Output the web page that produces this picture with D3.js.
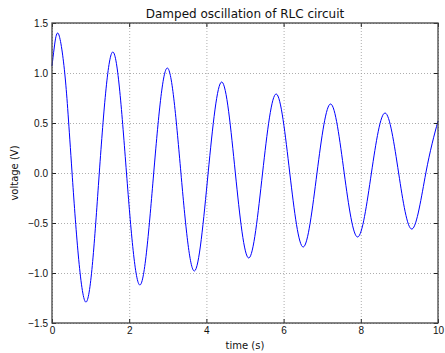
<!DOCTYPE html>
<html>
<head>
<meta charset="utf-8">
<script src="https://cdn.jsdelivr.net/npm/d3@7"></script>
<style>
  body { margin: 0; background: #fff; }
  svg { display: block; font-family: "DejaVu Sans", sans-serif; }
  .axis text { font-size: 10px; fill: #111; }
  .axis path.domain { display: none; }
  .axis line { stroke: #222; }
  .grid line { stroke: #999; stroke-width: 0.8; stroke-dasharray: 1,2; }
  .grid path.domain { display: none; }
</style>
</head>
<body>
<svg width="445" height="353"></svg>
<script>
// values: peaks, troughs and zero crossings
var timeS = [0, 0.06, 0.17, 0.34, 0.52, 0.87, 1.225, 1.58, 1.93, 2.28, 2.635, 2.99, 3.34, 3.69,
             4.045, 4.40, 4.75, 5.10, 5.455, 5.81, 6.16, 6.51, 6.865, 7.22, 7.57,
             7.92, 8.275, 8.63, 8.98, 9.33, 9.685, 10];
var voltage = [1.07, 1.26, 1.39, 0.96, 0, -1.29, 0, 1.21, 0, -1.12, 0, 1.05, 0, -0.98,
               0, 0.91, 0, -0.85, 0, 0.79, 0, -0.74, 0, 0.69, 0,
               -0.64, 0, 0.60, 0, -0.56, 0, 0.52];
var xTicks = [0, 2, 4, 6, 8, 10];
var yTicks = [-1.5, -1.0, -0.5, 0.0, 0.5, 1.0, 1.5];

var svg = d3.select("svg"),
    margin = {top: 23, right: 7, bottom: 30, left: 52},
    width = +svg.attr("width") - margin.left - margin.right,
    height = +svg.attr("height") - margin.top - margin.bottom;

var x = d3.scaleLinear().domain([0, 10]).range([0, width]),
    y = d3.scaleLinear().domain([-1.5, 1.5]).range([height, 0]);

var g = svg.append("g")
    .attr("transform", "translate(" + margin.left + "," + margin.top + ")");

var data = timeS.map(function(t, i) { return {t: t, v: voltage[i]}; });

// dotted grid
g.append("g").attr("class", "grid")
    .attr("transform", "translate(0," + height + ")")
    .call(d3.axisBottom(x).tickValues(xTicks).tickSize(-height).tickFormat(""));
g.append("g").attr("class", "grid")
    .call(d3.axisLeft(y).tickValues(yTicks).tickSize(-width).tickFormat(""));

// curve
var line = d3.line()
    .curve(d3.curveNatural)
    .x(function(d) { return x(d.t); })
    .y(function(d) { return y(d.v); });

g.append("path")
    .datum(data)
    .attr("fill", "none")
    .attr("stroke", "#0000ff")
    .attr("stroke-width", 1)
    .attr("d", line);

var fmt = function(d) { return d3.format(".1f")(d).replace("-", "\u2212"); };

// axes with inward ticks on all sides
g.append("g").attr("class", "axis")
    .attr("transform", "translate(0," + height + ")")
    .call(d3.axisBottom(x).tickValues(xTicks).tickSize(-4).tickPadding(4).tickFormat(d3.format("d")));
g.append("g").attr("class", "axis")
    .call(d3.axisTop(x).tickValues(xTicks).tickSize(-4).tickFormat(""));
g.append("g").attr("class", "axis")
    .call(d3.axisLeft(y).tickValues(yTicks).tickSize(-4).tickPadding(4).tickFormat(fmt));
g.append("g").attr("class", "axis")
    .attr("transform", "translate(" + width + ",0)")
    .call(d3.axisRight(y).tickValues(yTicks).tickSize(-4).tickFormat(""));

g.append("rect")
    .attr("width", width)
    .attr("height", height)
    .attr("fill", "none")
    .attr("stroke", "#444")
    .attr("stroke-width", 1.3);

g.append("text")
    .attr("x", width / 2)
    .attr("y", -5)
    .attr("text-anchor", "middle")
    .style("font-size", "12px")
    .style("fill", "#111")
    .text("Damped oscillation of RLC circuit");

g.append("text")
    .attr("x", width / 2)
    .attr("y", height + 26)
    .attr("text-anchor", "middle")
    .style("font-size", "10px")
    .style("fill", "#111")
    .text("time (s)");

g.append("text")
    .attr("transform", "rotate(-90)")
    .attr("x", -height / 2)
    .attr("y", -34)
    .attr("text-anchor", "middle")
    .style("font-size", "10px")
    .style("fill", "#111")
    .text("voltage (V)");
</script>
</body>
</html>
